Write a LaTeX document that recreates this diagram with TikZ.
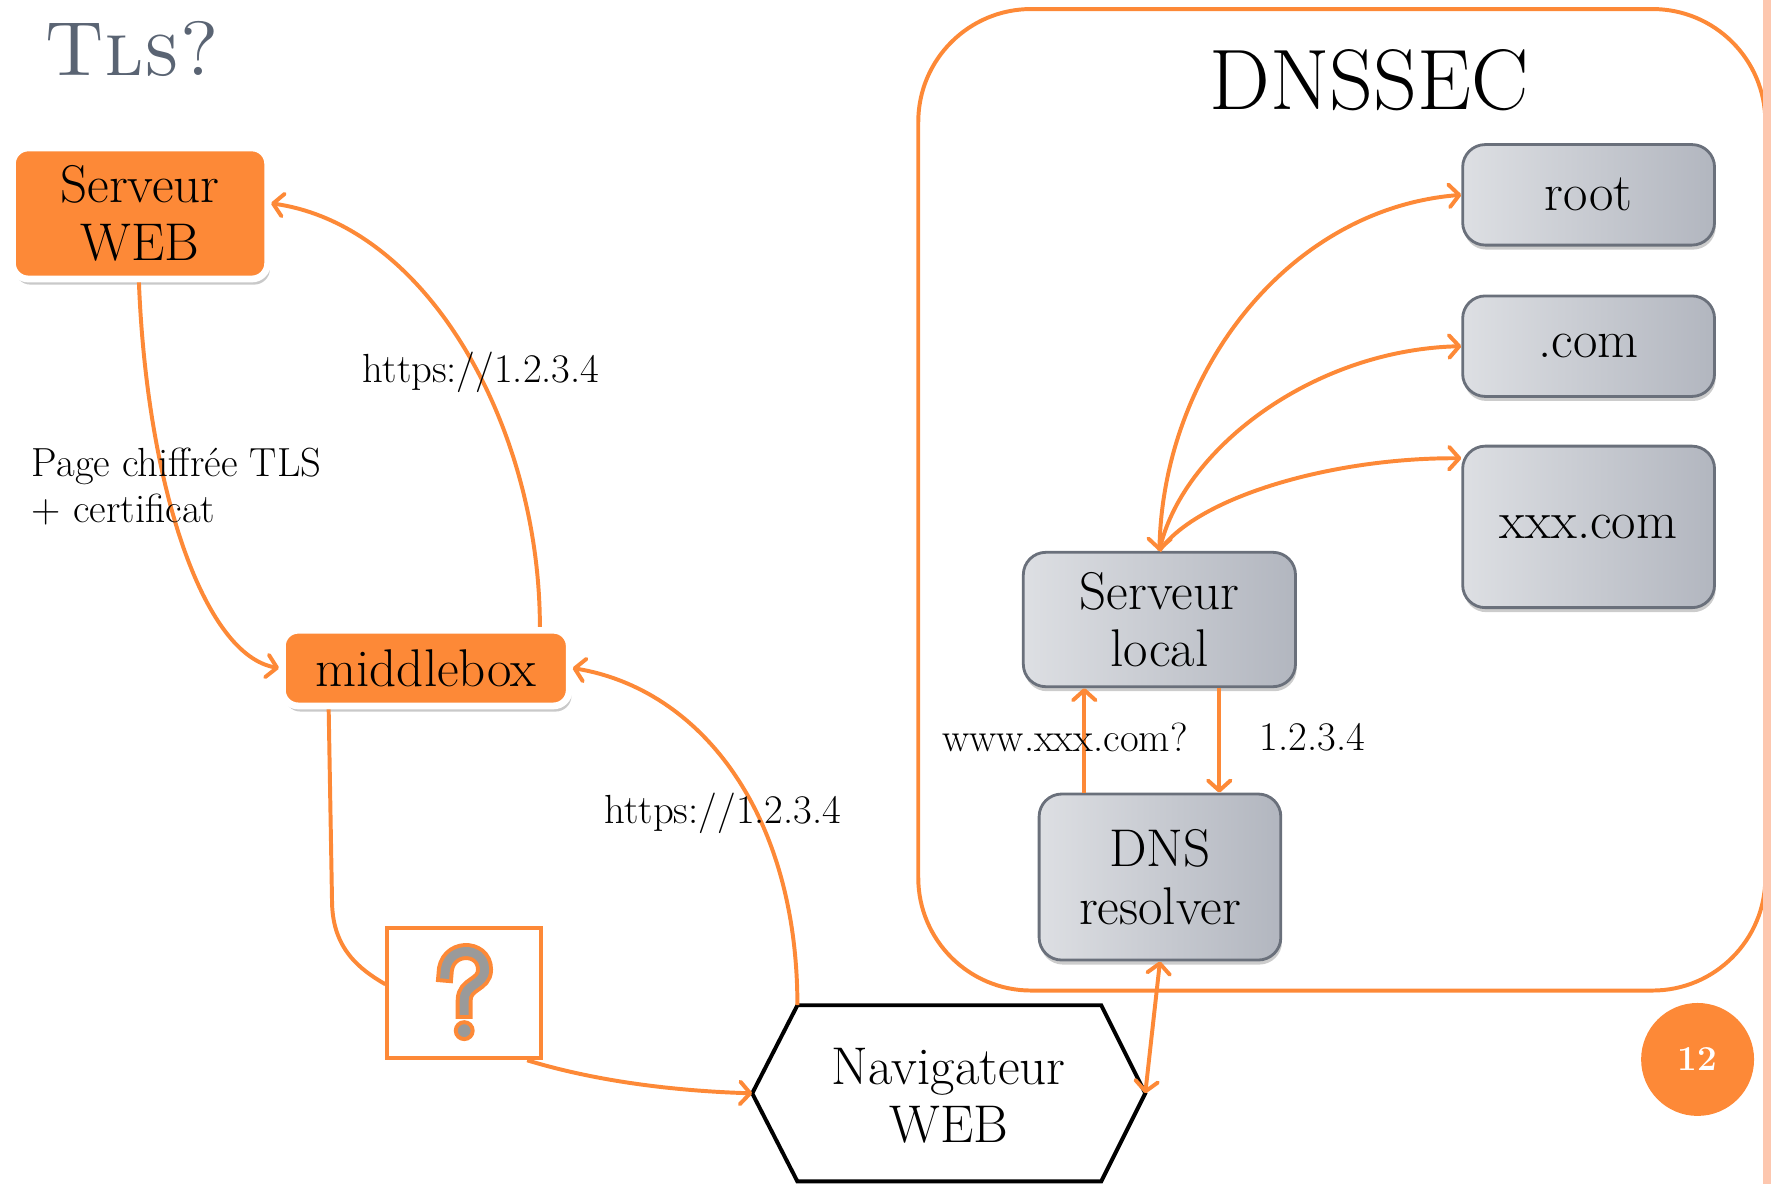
\documentclass[tikz,border=0pt]{standalone}
\usetikzlibrary{arrows.meta,shadows}

\definecolor{kor}{HTML}{FD8937}
\definecolor{kgrayline}{HTML}{6A707B}
\definecolor{kgraylight}{HTML}{DDDFE3}
\definecolor{kgraydark}{HTML}{B2B6BF}
\definecolor{ktitle}{HTML}{5A6473}
\definecolor{kstrip}{HTML}{FDC7AF}
\definecolor{kqmark}{HTML}{9A9A9A}

\tikzset{
  bigtext/.style={font=\fontsize{47}{51}\selectfont},
  smalltext/.style={font=\fontsize{36}{41}\selectfont},
  orangebox/.style={draw=white, line width=6pt, fill=kor, rounded corners=14pt,
    inner sep=0pt, align=center, bigtext,
    drop shadow={shadow xshift=2pt, shadow yshift=-5pt, opacity=0.3, fill=black!70}},
  graybox/.style={draw=kgrayline, line width=2.5pt, rounded corners=20pt,
    left color=kgraylight, right color=kgraydark, inner sep=0pt, align=center, bigtext,
    drop shadow={shadow xshift=1pt, shadow yshift=-4pt, opacity=0.2, fill=black}},
  link/.style={draw=kor, line width=3.5pt},
  >={Straight Barb[length=9pt,width=20pt,round]},
}

\begin{document}
\begin{tikzpicture}[x=1pt,y=-1pt]
\useasboundingbox (0,0) rectangle (1568,1048);

% title
\node[anchor=south west, inner sep=0pt, text=ktitle, font=\fontsize{68}{68}\selectfont]
  (title) at (39,68) {\textsc{Tls?}};

% ---------- left part: TLS path ----------
\node[orangebox, minimum width=226, minimum height=116] (sweb) at (124,189) {Serveur\\WEB};
\node[orangebox, minimum width=254, minimum height=67] (mb) at (377,591.5) {middlebox};
\node[draw=kor, line width=3.5pt, minimum width=136, minimum height=115, inner sep=0pt]
  (qbox) at (411,879.5) {};

% question mark inside the box
\begin{scope}[shift={(qbox.center)}]
  \foreach \w/\c in {15pt/kor, 8pt/kqmark}{
    \draw[line width=\w, color=\c, line cap=rect]
      (-17,-17) .. controls (-17,-43) and (18,-43) .. (18,-21)
      .. controls (18,-7) and (0,-9) .. (0,6) -- (0,15);
  }
  \draw[kor, line width=3.5pt, fill=kqmark] (0,33) circle (7.5);
\end{scope}

% browser hexagon
\coordinate (navtl) at (706,890);
\coordinate (navtr) at (975,890);
\coordinate (navr)  at (1014,968);
\coordinate (navbr) at (975,1046);
\coordinate (navbl) at (706,1046);
\coordinate (navl)  at (666,968);
\draw[black, line width=3.5pt, line join=miter]
  (navtl) -- (navtr) -- (navr) -- (navbr) -- (navbl) -- (navl) -- cycle;
\node[bigtext, align=center, inner sep=0pt] (nav) at (840,970) {Navigateur\\WEB};

% connectors of the TLS path
\draw[link,->] ([xshift=-1pt]sweb.south) .. controls (130,430) and (180,580) .. (mb.west);
\draw[link,->] ([xshift=101pt]mb.north) .. controls (478,380) and (380,200) .. ([yshift=9pt]sweb.east);
\draw[link,->] (navtl) .. controls (706,720) and (620,610) .. (mb.east);
\draw[link] ([xshift=-86pt]mb.south) -- (294,800) .. controls (295,840) and (318,858) .. ([yshift=8pt]qbox.west);
\draw[link,->] ([xshift=-14pt]qbox.south east) .. controls (530,958) and (600,966) .. (navl);

\node[smalltext, inner sep=0pt] (lbl1) at (426,330) {https://1.2.3.4};
\node[smalltext, inner sep=0pt] (lbl2) at (640,720) {https://1.2.3.4};
\node[smalltext, inner sep=0pt, anchor=west, align=left] (lbl3) at (28,431)
  {Page chiffrée TLS\\+ certificat};

% ---------- right part: DNSSEC ----------
\draw[kor, line width=3.5pt, rounded corners=100pt] (813,8) rectangle (1563,877);
\node[font=\fontsize{76}{76}\selectfont, inner sep=0pt] (dnssec) at (1212,71) {DNSSEC};

\node[graybox, minimum width=223, minimum height=89]  (root) at (1406.5,172.5) {root};
\node[graybox, minimum width=223, minimum height=89]  (com)  at (1406.5,306.5) {.com};
\node[graybox, minimum width=223, minimum height=143] (xxx)  at (1406.5,466.5) {xxx.com};
\node[graybox, minimum width=241, minimum height=119] (sl)   at (1026.5,548.5) {Serveur\\local};
\node[graybox, minimum width=214, minimum height=147] (dns)  at (1027,776.5) {DNS\\resolver};

\draw[link,<->] (sl.north) .. controls (1030,330) and (1140,185) .. (root.west);
\draw[link,->] (sl.north) .. controls (1045,400) and (1160,310) .. (com.west);
\draw[link,->] (sl.north) .. controls (1060,440) and (1180,405) .. ([yshift=-12pt]xxx.north west);

\draw[link,->] ([xshift=-67pt]dns.north) -- ([xshift=-67pt]dns.north |- sl.south);
\draw[link,->] ([xshift=53pt]sl.south) -- ([xshift=53pt]sl.south |- dns.north);
\node[smalltext, inner sep=0pt] (q) at (943,653) {www.xxx.com?};
\node[smalltext, inner sep=0pt] (a) at (1162,653) {1.2.3.4};

\draw[link,<->] (dns.south) -- (navr);

% page number and right edge strip
\node[circle, fill=kor, minimum size=100pt, inner sep=0pt, text=white,
  font=\fontsize{31}{31}\selectfont\bfseries] (page) at (1503,938) {12};
\fill[kstrip] (1561,0) rectangle (1568,1048);
\end{tikzpicture}
\end{document}
